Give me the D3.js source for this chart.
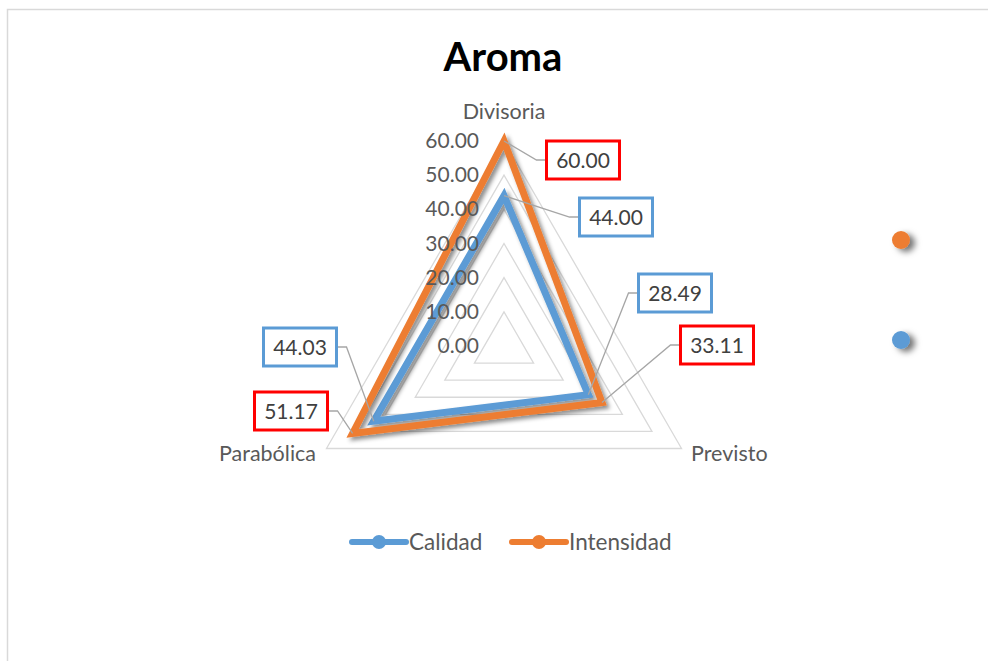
<!DOCTYPE html>
<html>
<head>
<meta charset="utf-8">
<script src="https://cdn.jsdelivr.net/npm/d3@7/dist/d3.min.js"></script>
<style>
  html, body { margin: 0; padding: 0; background: #fff; }
  svg { display: block; font-family: Lato, "Open Sans", sans-serif; }
</style>
</head>
<body>
<svg id="chart" width="988" height="661"></svg>
<script>
// chart data
const categories = ['Divisoria', 'Previsto', 'Parabólica'];
const calidad = [44.00, 28.49, 44.03];
const intensidad = [60.00, 33.11, 51.17];
const tickValues = [0, 10, 20, 30, 40, 50, 60];

const series = [
  { name: 'Calidad', values: calidad, color: '#5B9BD5', box: '#5B9BD5' },
  { name: 'Intensidad', values: intensidad, color: '#ED7D31', box: '#FF0000' }
];

// where each data label box sits (centre), per series and category
const labelSpots = {
  Calidad: [[616, 217], [675, 293], [300, 347]],
  Intensidad: [[583, 160], [717, 345], [291, 411]]
};

const svg = d3.select('#chart');
const cx = 504, cy = 346, R = 205;
const r = d3.scaleLinear().domain([0, 60]).range([0, R]);
const angle = (i) => i * 2 * Math.PI / categories.length;
const pt = (i, v) => [cx + r(v) * Math.sin(angle(i)), cy - r(v) * Math.cos(angle(i))];

const defs = svg.append('defs');
const shadow = defs.append('filter').attr('id', 'shadow')
  .attr('x', '-20%').attr('y', '-20%').attr('width', '150%').attr('height', '150%');
shadow.append('feDropShadow').attr('dx', 3).attr('dy', 3).attr('stdDeviation', 2.2)
  .attr('flood-color', '#000').attr('flood-opacity', 0.45);
const dotShadow = defs.append('filter').attr('id', 'dotShadow')
  .attr('x', '-50%').attr('y', '-50%').attr('width', '250%').attr('height', '250%');
dotShadow.append('feDropShadow').attr('dx', 5).attr('dy', 3).attr('stdDeviation', 3)
  .attr('flood-color', '#000').attr('flood-opacity', 0.55);

// frame
svg.append('path').attr('d', 'M7.5,670 V9.5 H1000')
  .attr('fill', 'none').attr('stroke', '#D9D9D9').attr('stroke-width', 1.5);

svg.append('text').attr('x', 503).attr('y', 71).attr('text-anchor', 'middle')
  .attr('font-size', 40).attr('font-weight', 'bold').attr('fill', '#000').text('Aroma');

// grid triangles
const radial = d3.lineRadial().angle((d, i) => angle(i)).radius((d) => r(d)).curve(d3.curveLinearClosed);
const g = svg.append('g').attr('transform', `translate(${cx},${cy})`);
g.selectAll('path.grid')
  .data(tickValues.filter((t) => t > 0))
  .join('path')
  .attr('class', 'grid')
  .attr('d', (t) => radial(categories.map(() => t)))
  .attr('fill', 'none').attr('stroke', '#D9D9D9').attr('stroke-width', 1.3);

// tick labels
svg.selectAll('text.tick')
  .data(tickValues)
  .join('text')
  .attr('class', 'tick')
  .attr('x', 479).attr('y', (t) => cy - r(t) + 7)
  .attr('text-anchor', 'end').attr('font-size', 21).attr('fill', '#595959')
  .text((t) => t.toFixed(2));

// category labels
const catPos = [
  { x: cx, y: 119, anchor: 'middle' },
  { x: 691, y: 461, anchor: 'start' },
  { x: 316, y: 461, anchor: 'end' }
];
svg.selectAll('text.cat')
  .data(categories)
  .join('text')
  .attr('class', 'cat')
  .attr('x', (d, i) => catPos[i].x).attr('y', (d, i) => catPos[i].y)
  .attr('text-anchor', (d, i) => catPos[i].anchor)
  .attr('font-size', 21.5).attr('fill', '#595959')
  .text((d) => d);

// series
g.selectAll('path.series')
  .data(series)
  .join('path')
  .attr('class', 'series')
  .attr('d', (s) => radial(s.values))
  .attr('fill', 'none').attr('stroke', (s) => s.color)
  .attr('stroke-width', 7).attr('stroke-linejoin', 'miter')
  .attr('filter', 'url(#shadow)');

// data labels with leader lines
const bw = 73, bh = 38;
series.forEach((s) => {
  s.values.forEach((v, i) => {
    const [px, py] = pt(i, v);
    const [lx, ly] = labelSpots[s.name][i];
    const right = lx > cx;
    const edge = right ? lx - bw / 2 : lx + bw / 2;
    const elbow = right ? edge - 10 : edge + 10;
    svg.append('polyline')
      .attr('points', `${px},${py} ${elbow},${ly} ${edge},${ly}`)
      .attr('fill', 'none').attr('stroke', '#A6A6A6').attr('stroke-width', 1.3);
    svg.append('rect')
      .attr('x', lx - bw / 2).attr('y', ly - bh / 2).attr('width', bw).attr('height', bh)
      .attr('fill', '#fff').attr('stroke', s.box).attr('stroke-width', 3);
    svg.append('text')
      .attr('x', lx).attr('y', ly + 7.5).attr('text-anchor', 'middle')
      .attr('font-size', 21).attr('fill', '#404040')
      .text(v.toFixed(2));
  });
});

// legend
const legendX = [352, 512];
const leg = svg.selectAll('g.legend')
  .data(series)
  .join('g')
  .attr('class', 'legend')
  .attr('transform', (s, i) => `translate(${legendX[i]},542)`);
leg.append('line').attr('x1', 0).attr('x2', 54).attr('y1', 0).attr('y2', 0)
  .attr('stroke', (s) => s.color).attr('stroke-width', 6).attr('stroke-linecap', 'round');
leg.append('circle').attr('cx', 27).attr('cy', 0).attr('r', 7).attr('fill', (s) => s.color);
leg.append('text').attr('x', 57).attr('y', 8).attr('font-size', 22.5).attr('fill', '#595959')
  .text((s) => s.name);

// stray markers on the right
const strayY = [240, 340];
svg.selectAll('circle.stray')
  .data([series[1], series[0]])
  .join('circle')
  .attr('class', 'stray')
  .attr('cx', 901).attr('cy', (s, i) => strayY[i]).attr('r', 9)
  .attr('fill', (s) => s.color).attr('filter', 'url(#dotShadow)');
</script>
</body>
</html>
